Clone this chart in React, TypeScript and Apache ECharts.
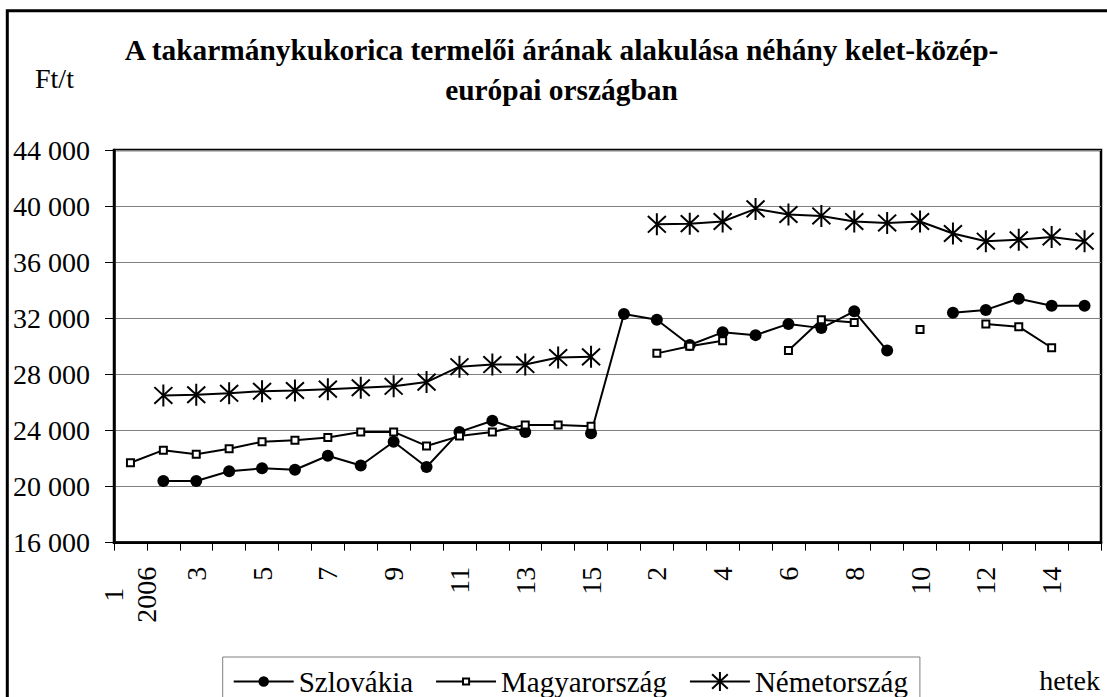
import React, { useEffect, useRef } from 'react';
import * as echarts from 'echarts';

// x categories: weeks of 2006 then weeks of 2007
const weeks = [
  '1\n2006', '2', '3', '4', '5', '6', '7', '8', '9', '10', '11', '12', '13', '14', '15',
  '1\n2007', '2', '3', '4', '5', '6', '7', '8', '9', '10', '11', '12', '13', '14', '15',
];

const szlovakia = [
  null, 20400, 20400, 21100, 21300, 21200, 22200, 21500, 23200, 21400, 23900, 24700, 23900, null, 23800,
  32300, 31900, 30100, 31000, 30800, 31600, 31300, 32500, 29700, null, 32400, 32600, 33400, 32900, 32900,
];

const magyarorszag = [
  21700, 22600, 22300, 22700, 23200, 23300, 23500, 23900, 23900, 22900, 23600, 23900, 24400, 24400, 24300,
  null, 29500, 30000, 30400, null, 29700, 31900, 31700, null, 31200, null, 31600, 31400, 29900, null,
];

const nemetorszag = [
  null, 26500, 26550, 26650, 26800, 26850, 26950, 27050, 27150, 27450, 28550, 28700, 28700, 29200, 29250,
  null, 38700, 38750, 38900, 39800, 39400, 39300, 38900, 38800, 38900, 38050, 37500, 37600, 37800, 37500,
];

const seriesNames = ['Szlovákia', 'Magyarország', 'Németország'];
const yMin = 16000;
const yMax = 44000;
const yStep = 4000;

const titleLines = ['A takarmánykukorica termelői árának alakulása néhány kelet-közép-', 'európai országban'];
const yUnit = 'Ft/t';
const xName = 'hetek';

const FONT = 'Liberation Serif';
const PAD = 'M-11 -11 M11 11 ';
const SYM_CIRCLE = 'path://' + PAD + 'M6 0 A6 6 0 1 1 -6 0 A6 6 0 1 1 6 0 Z';
const SYM_SQUARE = 'path://' + PAD + 'M-3.5 -3.5 L3.5 -3.5 L3.5 3.5 L-3.5 3.5 Z';
const SYM_STAR = 'path://' + PAD + 'M-9 -8.3 L9 8.3 M-9 8.3 L9 -8.3 M0 -11 L0 11';

const fmtThousands = (v: number) => String(v).replace(/\B(?=(\d{3})+(?!\d))/g, ' ');

export default function App() {
  const ref = useRef<HTMLDivElement>(null);
  useEffect(() => {
    if (!ref.current) return;
    const chart = echarts.init(ref.current, null, { renderer: 'svg' });
    const lineBase = {
      type: 'line',
      symbolSize: 22,
      showAllSymbol: true,
      connectNulls: false,
      lineStyle: { color: '#000', width: 2 },
    };
    chart.setOption({
      animation: false,
      backgroundColor: '#fff',
      textStyle: { fontFamily: FONT },
      grid: {
        left: 114,
        top: 150,
        right: 6,
        bottom: 154.3,
        show: true,
        borderColor: '#000',
        borderWidth: 2.5,
        backgroundColor: 'transparent',
      },
      xAxis: {
        type: 'category',
        data: weeks,
        boundaryGap: true,
        axisLine: { show: true, lineStyle: { color: '#000', width: 2.5 } },
        axisTick: { show: true, interval: 0, length: 8, lineStyle: { color: '#000', width: 1 } },
        axisLabel: {
          interval: 1,
          rotate: 90,
          margin: 24,
          color: '#000',
          fontFamily: FONT,
          fontSize: 28,
          lineHeight: 33,
          formatter: (v: string) => v.split('\n').map((s) => '{c|' + s + '}').join('\n'),
          rich: { c: { align: 'center', fontFamily: FONT, fontSize: 28, lineHeight: 33, color: '#000' } },
        },
        splitLine: { show: false },
      },
      yAxis: {
        type: 'value',
        min: yMin,
        max: yMax,
        interval: yStep,
        axisLine: { show: true, lineStyle: { color: '#000', width: 2.5 } },
        axisTick: { show: true, length: 9, lineStyle: { color: '#000', width: 1 } },
        axisLabel: {
          margin: 24,
          color: '#000',
          fontFamily: FONT,
          fontSize: 28,
          formatter: (v: number) => fmtThousands(v),
        },
        splitLine: { show: true, lineStyle: { color: '#808080', width: 1 } },
      },
      legend: {
        left: 222.7,
        top: 657,
        orient: 'horizontal',
        itemWidth: 60,
        itemHeight: 24,
        itemGap: 22,
        padding: [10, 12, 30, 10],
        borderColor: '#808080',
        borderWidth: 1,
        backgroundColor: '#fff',
        textStyle: { color: '#000', fontFamily: FONT, fontSize: 29 },
        data: seriesNames,
      },
      series: [
        {
          ...lineBase,
          name: seriesNames[0],
          data: szlovakia,
          symbol: SYM_CIRCLE,
          itemStyle: { color: '#000', borderWidth: 0 },
        },
        {
          ...lineBase,
          name: seriesNames[1],
          data: magyarorszag,
          symbol: SYM_SQUARE,
          itemStyle: { color: '#fff', borderColor: '#000', borderWidth: 2 },
        },
        {
          ...lineBase,
          name: seriesNames[2],
          data: nemetorszag,
          symbol: SYM_STAR,
          itemStyle: { color: '#000', borderColor: '#000', borderWidth: 2 },
        },
      ],
      graphic: [
        {
          type: 'rect',
          silent: true,
          z: 100,
          shape: { x: 7.3, y: 10.7, width: 1300, height: 900 },
          style: { fill: 'none', stroke: '#000', lineWidth: 3 },
        },
        {
          type: 'text',
          x: 35,
          y: 78.5,
          style: { text: yUnit, fontFamily: FONT, fontSize: 28, fill: '#000', align: 'left', verticalAlign: 'middle' },
        },
        {
          type: 'text',
          x: 561.5,
          y: 50,
          style: { text: titleLines[0], fontFamily: FONT, fontSize: 29.4, fontWeight: 'bold', fill: '#000', align: 'center', verticalAlign: 'middle' },
        },
        {
          type: 'text',
          x: 561.5,
          y: 90,
          style: { text: titleLines[1], fontFamily: FONT, fontSize: 29.4, fontWeight: 'bold', fill: '#000', align: 'center', verticalAlign: 'middle' },
        },
        {
          type: 'text',
          x: 1100,
          y: 680.5,
          style: { text: xName, fontFamily: FONT, fontSize: 28, fill: '#000', align: 'right', verticalAlign: 'middle' },
        },
      ],
    });
    return () => chart.dispose();
  }, []);
  return (
    <div
      ref={ref}
      style={{ position: 'fixed', left: 0, top: 0, width: 1107, height: 697, background: '#fff' }}
    />
  );
}
